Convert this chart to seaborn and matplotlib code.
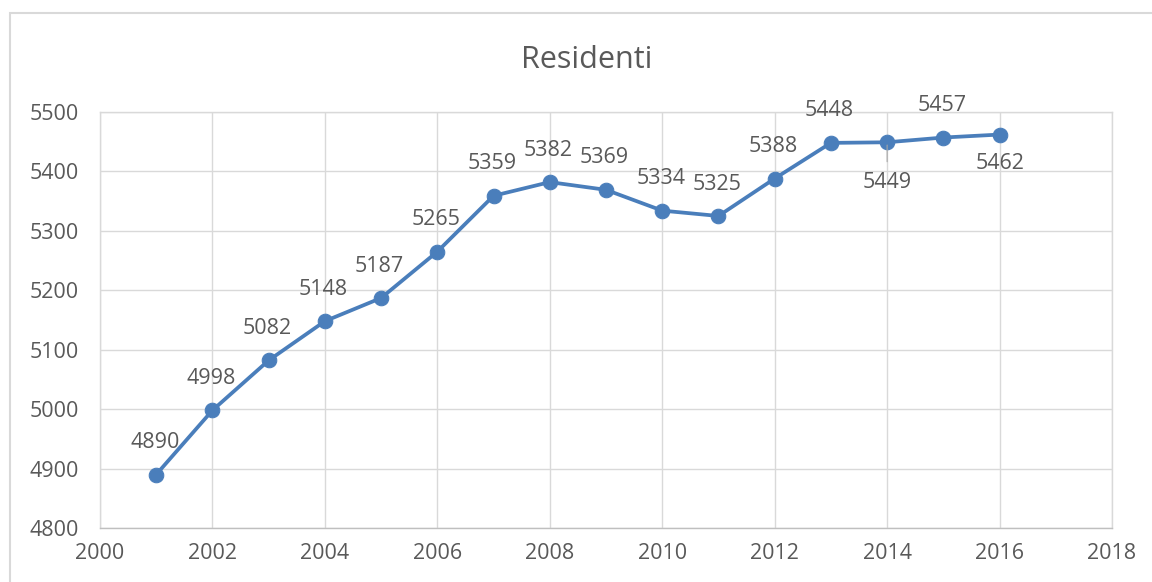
import matplotlib
matplotlib.use("Agg")
import matplotlib.pyplot as plt
import pandas as pd
import seaborn as sns
from matplotlib.patches import Rectangle

# data
anni = [2001, 2002, 2003, 2004, 2005, 2006, 2007, 2008,
        2009, 2010, 2011, 2012, 2013, 2014, 2015, 2016]
residenti = [4890, 4998, 5082, 5148, 5187, 5265, 5359, 5382,
             5369, 5334, 5325, 5388, 5448, 5449, 5457, 5462]
sotto = [2014, 2016]  # labels placed below the point

df = pd.DataFrame({"Anno": anni, "Residenti": residenti})

sns.set_theme(style="white")
plt.rcParams["font.family"] = ["Open Sans", "DejaVu Sans"]

TXT = "#595959"
GRID = "#D9D9D9"
BLUE = "#4A7EBB"
FS = 15.5

fig = plt.figure(figsize=(11.52, 5.82), dpi=100)
ax = fig.add_axes([0.0868, 0.0928, 0.8785, 0.7148])

sns.lineplot(data=df, x="Anno", y="Residenti", ax=ax, color=BLUE,
             linewidth=2.7, marker="o", markersize=10.5,
             markeredgecolor=BLUE, zorder=3)

ax.set_xlim(2000, 2018)
ax.set_ylim(4800, 5500)
ax.set_xticks(range(2000, 2019, 2))
ax.set_yticks(range(4800, 5501, 100))
ax.grid(True, color=GRID, linewidth=1)
ax.set_axisbelow(True)
for s in ax.spines.values():
    s.set_color(GRID)
    s.set_linewidth(1)
ax.spines["bottom"].set_color("#BFBFBF")
ax.tick_params(axis="y", colors=TXT, labelsize=FS, length=0, pad=15)
ax.tick_params(axis="x", colors=TXT, labelsize=FS, length=0, pad=11)
ax.set_xlabel("")
ax.set_ylabel("")

for x, y in zip(anni, residenti):
    if x in sotto:
        off = -21 if x == 2016 else -29
        ax.annotate(str(y), (x, y), xytext=(0, off), textcoords="offset points",
                    ha="center", va="center", fontsize=FS, color=TXT)
    else:
        ax.annotate(str(y), (x, y), xytext=(-1, 23), textcoords="offset points",
                    ha="center", va="center", fontsize=FS, color=TXT)

# small leader line for 2014
ax.annotate("", (2014, 5449), xytext=(0, -16), textcoords="offset points",
            arrowprops=dict(arrowstyle="-", color="#A6A6A6", lw=0.8))

fig.text(0.509, 0.897, "Residenti", ha="center", va="center",
         fontsize=22, color=TXT)

fig.patches.append(Rectangle((10 / 1152, -0.05), 1.1, 1.05 - 13 / 582,
                             transform=fig.transFigure, fill=False,
                             edgecolor=GRID, linewidth=1.5))

fig.savefig("out.png", dpi=100)
